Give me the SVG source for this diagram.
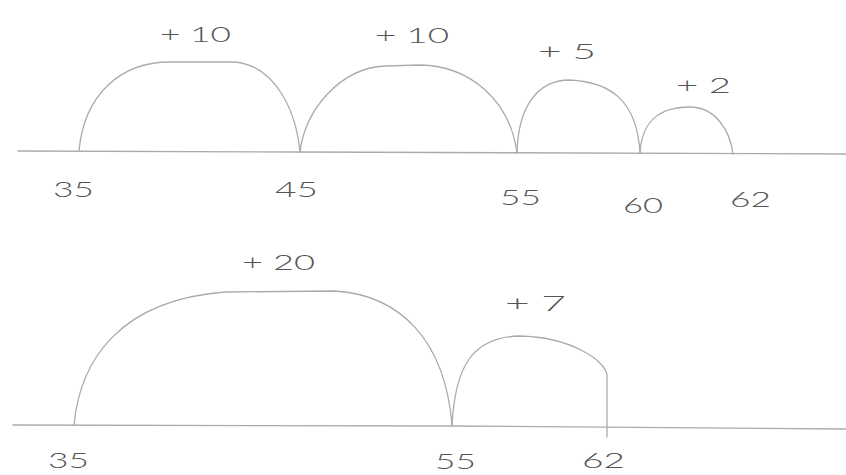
<svg xmlns="http://www.w3.org/2000/svg" width="846" height="475" viewBox="0 0 846 475">
<style>
.ln{fill:none;stroke:#ababab;stroke-width:1.3;stroke-linecap:round;stroke-linejoin:round}
.t{font-family:Lato,"Liberation Sans","DejaVu Sans",sans-serif;font-weight:300;font-size:22px;fill:#555}
</style>
<rect width="846" height="475" fill="#fff"/>
<g id="top">
  <path class="ln" d="M18,151 L300,152 L846,154"/>
  <g id="jump-top-1">
    <path class="ln" d="M79,151 C84,95 120,62 170,62 L235,62 C275,66 296,110 300,152"/>
    <text class="t" x="160" y="42" textLength="71" lengthAdjust="spacingAndGlyphs">+ 10</text>
  </g>
  <g id="jump-top-2">
    <path class="ln" d="M300,152 C305,110 340,68 385,66 L420,65 C470,66 510,100 517,153"/>
    <text class="t" x="375" y="43" textLength="74" lengthAdjust="spacingAndGlyphs">+ 10</text>
  </g>
  <g id="jump-top-3">
    <path class="ln" d="M517,153 C518,110 535,80 570,80 C610,82 637,100 640,153"/>
    <text class="t" x="538" y="59" textLength="58" lengthAdjust="spacingAndGlyphs">+ 5</text>
  </g>
  <g id="jump-top-4">
    <path class="ln" d="M640,153 C642,120 660,107 690,107 C715,107 730,130 733,154"/>
    <text class="t" x="676" y="93" textLength="55" lengthAdjust="spacingAndGlyphs">+ 2</text>
  </g>
  <text class="t" x="53" y="197" textLength="41" lengthAdjust="spacingAndGlyphs">35</text>
  <text class="t" x="275" y="197" textLength="43" lengthAdjust="spacingAndGlyphs">45</text>
  <text class="t" x="500" y="205" textLength="41" lengthAdjust="spacingAndGlyphs">55</text>
  <text class="t" x="623" y="213" textLength="40" lengthAdjust="spacingAndGlyphs">60</text>
  <text class="t" x="730" y="207" textLength="41" lengthAdjust="spacingAndGlyphs">62</text>
</g>
<g id="bottom">
  <path class="ln" d="M13,425 L450,426 L846,429"/>
  <g id="jump-bottom-1">
    <path class="ln" d="M74,425 C80,360 120,300 225,292 L335,291 C400,295 445,340 452,425"/>
    <text class="t" x="242" y="270" textLength="73" lengthAdjust="spacingAndGlyphs">+ 20</text>
  </g>
  <g id="jump-bottom-2">
    <path class="ln" d="M452,425 C455,370 470,337 520,336 C570,337 605,360 607,375 L607,437"/>
    <text class="t" x="505" y="311" textLength="61" lengthAdjust="spacingAndGlyphs">+ 7</text>
  </g>
  <text class="t" x="48" y="468" textLength="41" lengthAdjust="spacingAndGlyphs">35</text>
  <text class="t" x="435" y="469" textLength="41" lengthAdjust="spacingAndGlyphs">55</text>
  <text class="t" x="582" y="468" textLength="43" lengthAdjust="spacingAndGlyphs">62</text>
</g>
</svg>
